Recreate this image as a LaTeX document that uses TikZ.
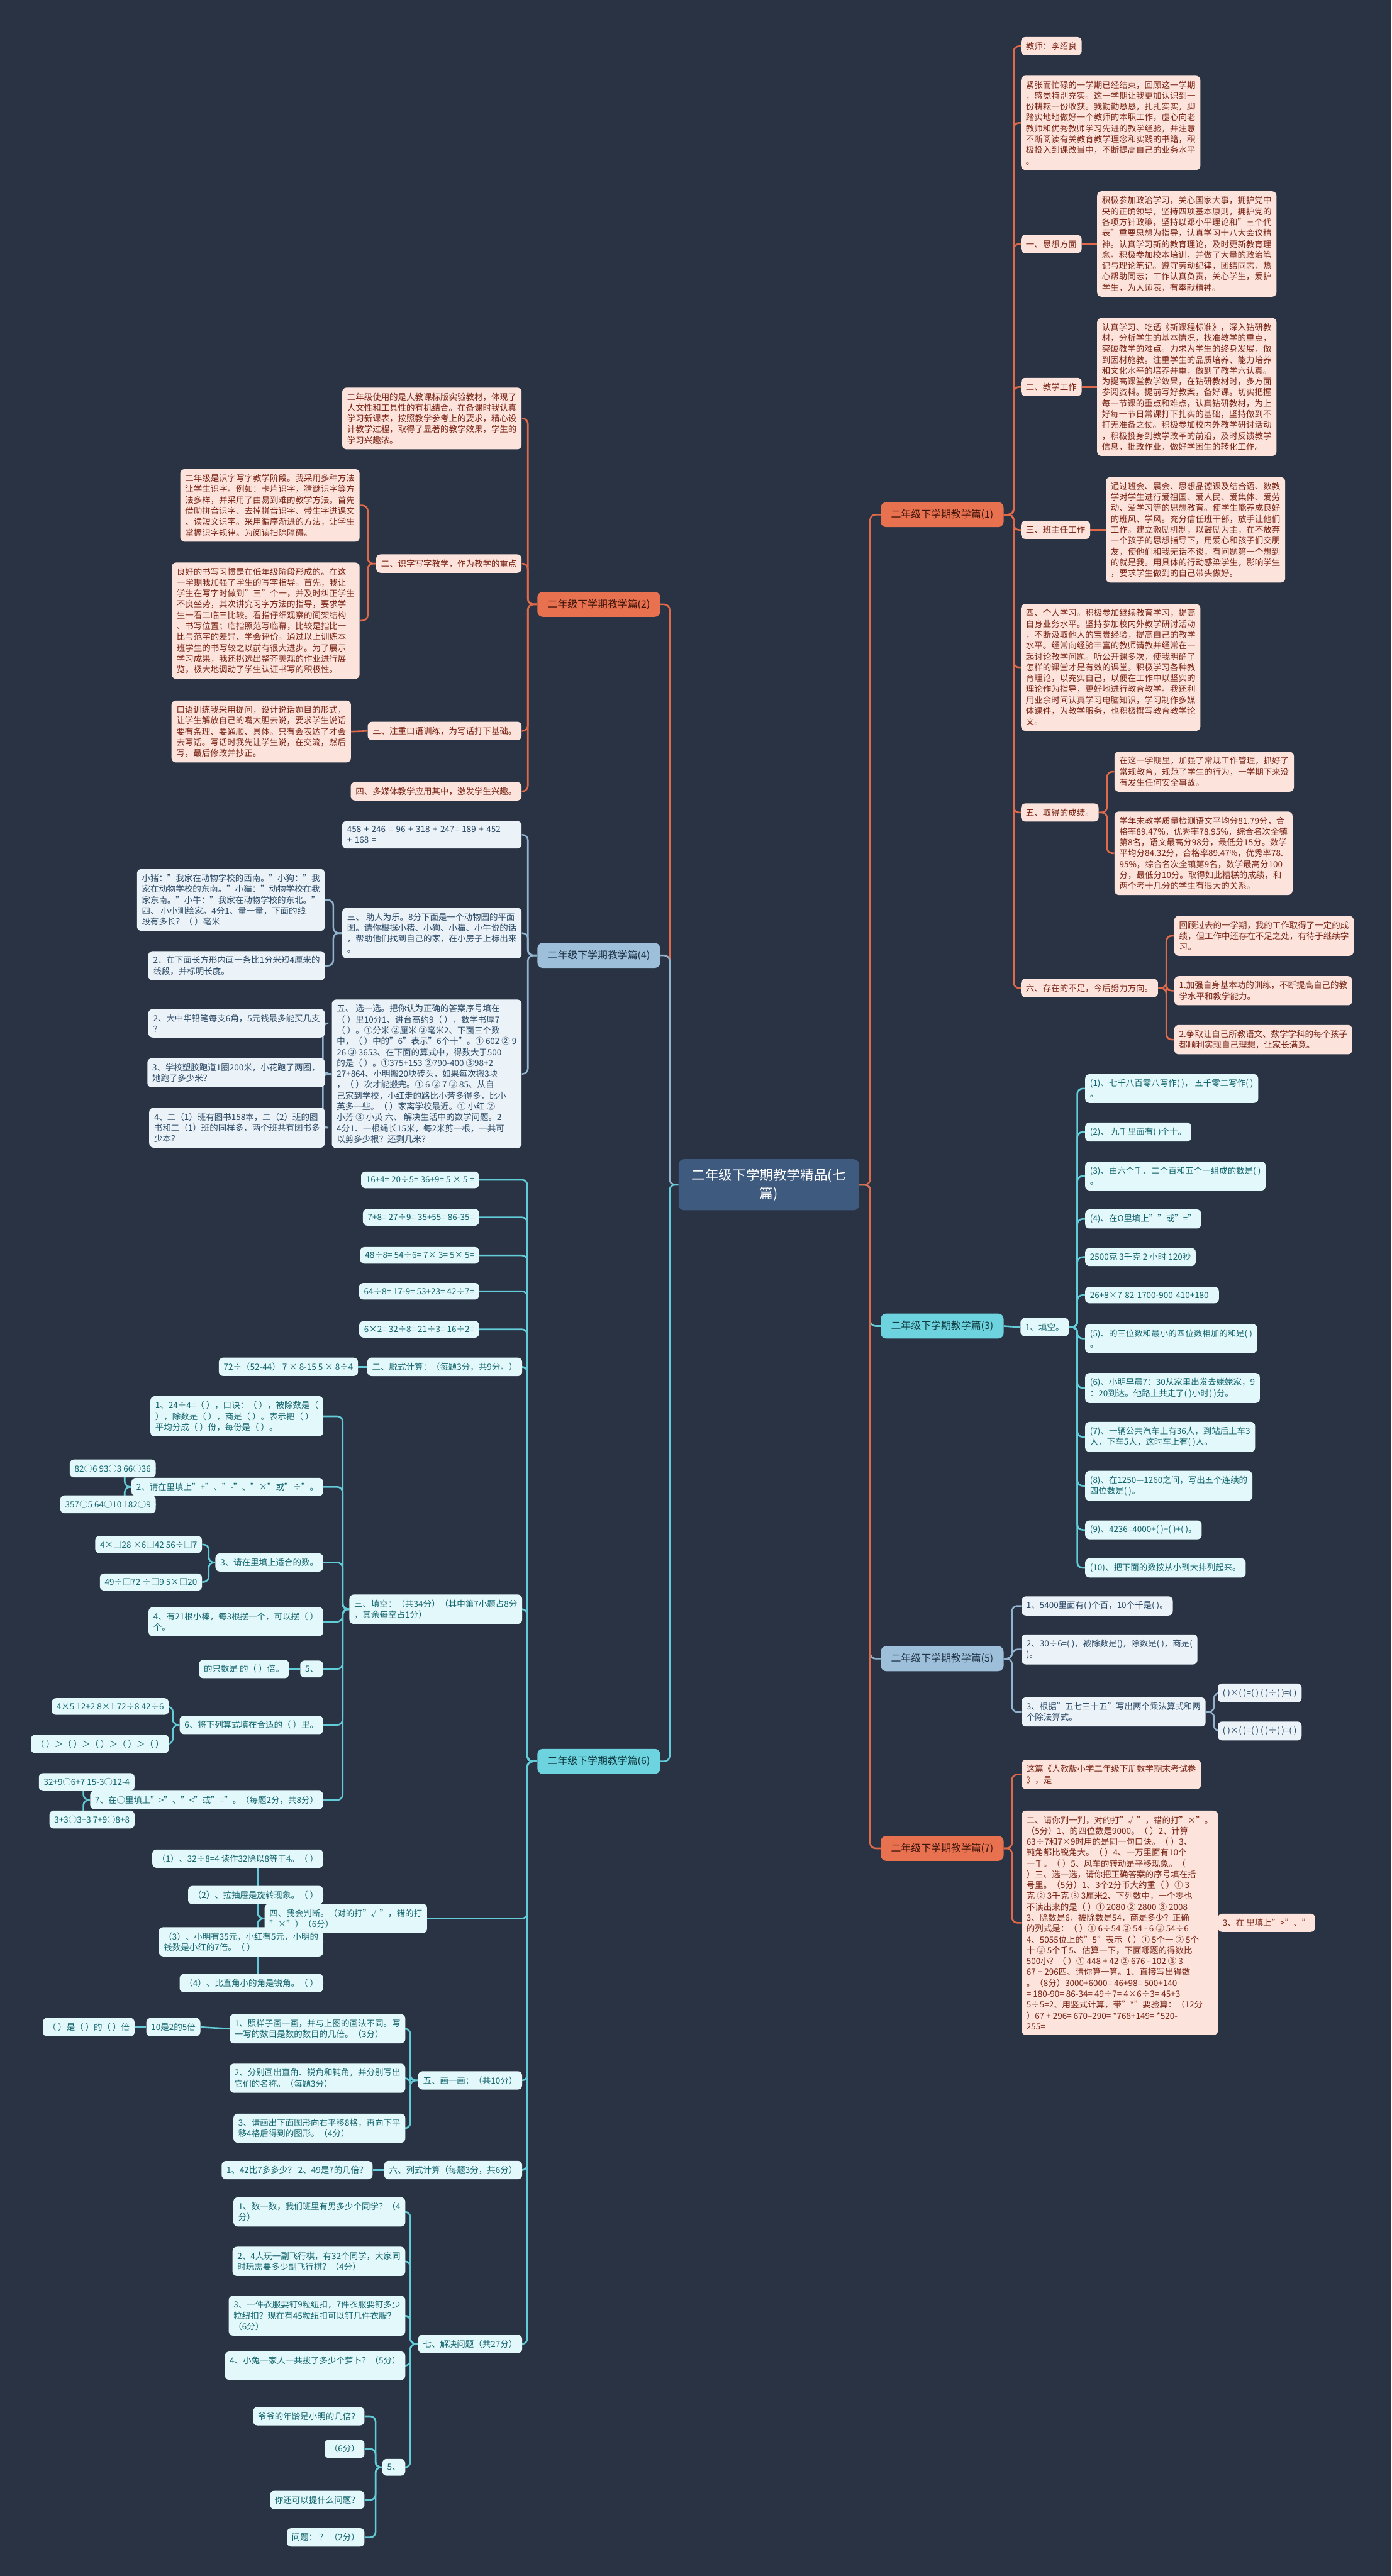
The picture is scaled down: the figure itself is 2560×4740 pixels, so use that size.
\documentclass[tikz,border=0pt]{standalone}
\usepackage{fontspec}
\setmainfont{Noto Sans CJK SC}
\usetikzlibrary{calc}
\pgfdeclarelayer{back}\pgfdeclarelayer{lines}\pgfsetlayers{back,lines,main}
\definecolor{bgc}{HTML}{293343}
\definecolor{loF}{HTML}{FCE4DC}\definecolor{loT}{HTML}{7A2415}
\definecolor{lbF}{HTML}{EBF2F8}\definecolor{lbT}{HTML}{2B4A66}
\definecolor{lcF}{HTML}{E3F8FA}\definecolor{lcT}{HTML}{13656E}
\definecolor{boF}{HTML}{E8714F}\definecolor{boT}{HTML}{3E140A}
\definecolor{bbF}{HTML}{9DBFD9}\definecolor{bbT}{HTML}{1F3347}
\definecolor{bcF}{HTML}{6DD3DE}\definecolor{bcT}{HTML}{0F3A40}
\definecolor{coL}{HTML}{E0694A}\definecolor{cbL}{HTML}{93B4CF}\definecolor{ccL}{HTML}{62CCD9}
\definecolor{ctrF}{HTML}{3E5A7E}
\tikzset{
 box/.style={rounded corners=4pt, inner xsep=4.5pt, inner ysep=4.75pt, align=left, font=\fontsize{7.8}{10}\selectfont},
 lo/.style={box, fill=loF, text=loT},
 lb/.style={box, fill=lbF, text=lbT},
 lc/.style={box, fill=lcF, text=lcT},
 br/.style={rounded corners=5pt, minimum width=113pt, minimum height=23pt, inner sep=2pt, font=\fontsize{9.2}{11}\selectfont},
 bo/.style={br, fill=boF, text=boT},
 bb/.style={br, fill=bbF, text=bbT},
 bc/.style={br, fill=bcF, text=bcT},
 ctr/.style={rounded corners=5pt, minimum width=166pt, minimum height=47pt, fill=ctrF, text=white, align=center, font=\fontsize{12.5}{17}\selectfont},
 co/.style={draw=coL, line width=1.5pt, rounded corners=5pt},
 cb/.style={draw=cbL, line width=1.5pt, rounded corners=5pt},
 cc/.style={draw=ccL, line width=1.5pt, rounded corners=5pt},
}
\begin{document}
\begin{tikzpicture}[x=0.5pt,y=-0.5pt]
\begin{pgfonlayer}{back}
\fill[bgc] (0,0) rectangle (2560,4740);
\end{pgfonlayer}
\useasboundingbox (0,0) rectangle (2560,4740);
% center and branches
\node[ctr, anchor=west] (c) at (1248,2180) {二年级下学期教学精品(七\\篇)};
\node[bo, anchor=west] (b1) at (1620,947) {二年级下学期教学篇(1)};
\node[bc, anchor=west] (b3) at (1620,2440) {二年级下学期教学篇(3)};
\node[bb, anchor=west] (b5) at (1620,3052) {二年级下学期教学篇(5)};
\node[bo, anchor=west] (b7) at (1620,3401) {二年级下学期教学篇(7)};
\node[bo, anchor=east] (b2) at (1215,1112) {二年级下学期教学篇(2)};
\node[bb, anchor=east] (b4) at (1215,1758) {二年级下学期教学篇(4)};
\node[bc, anchor=east] (b6) at (1215,3241) {二年级下学期教学篇(6)};
% ===== 篇(1)
\node[lo, anchor=west] (a1) at (1878,85) {教师：李绍良};
\node[lo, anchor=west] (a2) at (1878,226) {紧张而忙碌的一学期已经结束，回顾这一学期\\，感觉特别充实。这一学期让我更加认识到一\\份耕耘一份收获。我勤勤恳恳，扎扎实实，脚\\踏实地地做好一个教师的本职工作，虚心向老\\教师和优秀教师学习先进的教学经验，并注意\\不断阅读有关教育教学理念和实践的书籍，积\\极投入到课改当中，不断提高自己的业务水平\\。};
\node[lo, anchor=west] (a3) at (1878,449) {一、思想方面};
\node[lo, anchor=west] (a3c) at (2018,449) {积极参加政治学习，关心国家大事，拥护党中\\央的正确领导，坚持四项基本原则，拥护党的\\各项方针政策，坚持以邓小平理论和"三个代\\表"重要思想为指导，认真学习十八大会议精\\神。认真学习新的教育理论，及时更新教育理\\念。积极参加校本培训，并做了大量的政治笔\\记与理论笔记。遵守劳动纪律，团结同志，热\\心帮助同志；工作认真负责，关心学生，爱护\\学生，为人师表，有奉献精神。};
\node[lo, anchor=west] (a4) at (1878,712) {二、教学工作};
\node[lo, anchor=west] (a4c) at (2018,712) {认真学习、吃透《新课程标准》，深入钻研教\\材，分析学生的基本情况，找准教学的重点，\\突破教学的难点。力求为学生的终身发展，做\\到因材施教。注重学生的品质培养、能力培养\\和文化水平的培养并重，做到了教学六认真。\\为提高课堂教学效果，在钻研教材时，多方面\\参阅资料。提前写好教案，备好课。切实把握\\每一节课的重点和难点，认真钻研教材，为上\\好每一节日常课打下扎实的基础，坚持做到不\\打无准备之仗。积极参加校内外教学研讨活动\\，积极投身到教学改革的前沿，及时反馈教学\\信息，批改作业，做好学困生的转化工作。};
\node[lo, anchor=west] (a5) at (1878,975) {三、班主任工作};
\node[lo, anchor=west] (a5c) at (2034,975) {通过班会、晨会、思想品德课及结合语、数教\\学对学生进行爱祖国、爱人民、爱集体、爱劳\\动、爱学习等的思想教育。使学生能养成良好\\的班风、学风。充分信任班干部，放手让他们\\工作。建立激励机制，以鼓励为主，在不放弃\\一个孩子的思想指导下，用爱心和孩子们交朋\\友，使他们和我无话不谈，有问题第一个想到\\的就是我。用具体的行动感染学生，影响学生\\，要求学生做到的自己带头做好。};
\node[lo, anchor=west] (a6) at (1878,1228) {四、个人学习。积极参加继续教育学习，提高\\自身业务水平。坚持参加校内外教学研讨活动\\，不断汲取他人的宝贵经验，提高自己的教学\\水平。经常向经验丰富的教师请教并经常在一\\起讨论教学问题。听公开课多次，使我明确了\\怎样的课堂才是有效的课堂。积极学习各种教\\育理论，以充实自己，以便在工作中以坚实的\\理论作为指导，更好地进行教育教学。我还利\\用业余时间认真学习电脑知识，学习制作多媒\\体课件，为教学服务，也积极撰写教育教学论\\文。};
\node[lo, anchor=west] (a7) at (1878,1495) {五、取得的成绩。};
\node[lo, anchor=west] (a7a) at (2050,1420) {在这一学期里，加强了常规工作管理，抓好了\\常规教育，规范了学生的行为，一学期下来没\\有发生任何安全事故。};
\node[lo, anchor=west] (a7b) at (2050,1570) {学年末教学质量检测语文平均分81.79分，合\\格率89.47\%，优秀率78.95\%，综合名次全镇\\第8名，语文最高分98分，最低分15分。数学\\平均分84.32分，合格率89.47\%，优秀率78.\\95\%，综合名次全镇第9名，数学最高分100\\分，最低分10分。取得如此糟糕的成绩，和\\两个考十几分的学生有很大的关系。};
\node[lo, anchor=west] (a8) at (1878,1818) {六、存在的不足，今后努力方向。};
\node[lo, anchor=west] (a8a) at (2160,1722) {回顾过去的一学期，我的工作取得了一定的成\\绩，但工作中还存在不足之处，有待于继续学\\习。};
\node[lo, anchor=west] (a8b) at (2160,1823) {1.加强自身基本功的训练，不断提高自己的教\\学水平和教学能力。};
\node[lo, anchor=west] (a8c) at (2160,1913) {2.争取让自己所教语文、数学学科的每个孩子\\都顺利实现自己理想，让家长满意。};
% ===== 篇(2)
\node[lo, anchor=east] (q1) at (960,770) {二年级使用的是人教课标版实验教材，体现了\\人文性和工具性的有机结合。在备课时我认真\\学习新课表，按照教学参考上的要求，精心设\\计教学过程，取得了显著的教学效果，学生的\\学习兴趣浓。};
\node[lo, anchor=east] (q2) at (960,1037) {二、识字写字教学，作为教学的重点};
\node[lo, anchor=east] (q2a) at (662,930) {二年级是识字写字教学阶段。我采用多种方法\\让学生识字。例如：卡片识字，猜谜识字等方\\法多样，并采用了由易到难的教学方法。首先\\借助拼音识字、去掉拼音识字、带生字进课文\\、读短文识字。采用循序渐进的方法，让学生\\掌握识字规律。为阅读扫除障碍。};
\node[lo, anchor=east] (q2b) at (662,1142) {良好的书写习惯是在低年级阶段形成的。在这\\一学期我加强了学生的写字指导。首先，我让\\学生在写字时做到"三"个一，并及时纠正学生\\不良坐势，其次讲究习字方法的指导，要求学\\生一看二临三比较。看指仔细观察的间架结构\\、书写位置；临指照范写临幕，比较是指比一\\比与范字的差异、学会评价。通过以上训练本\\班学生的书写较之以前有很大进步。为了展示\\学习成果，我还挑选出整齐美观的作业进行展\\览，极大地调动了学生认证书写的积极性。};
\node[lo, anchor=east] (q3) at (960,1345) {三、注重口语训练，为写话打下基础。};
\node[lo, anchor=east] (q3a) at (646,1346) {口语训练我采用提问，设计说话题目的形式，\\让学生解放自己的嘴大胆去说，要求学生说话\\要有条理、要通顺、具体。只有会表达了才会\\去写话。写话时我先让学生说，在交流，然后\\写，最后修改并抄正。};
\node[lo, anchor=east] (q4) at (960,1456) {四、多媒体教学应用其中，激发学生兴趣。};
% ===== 篇(4)
\node[lb, anchor=east, text width=156pt] (r1) at (960,1536) {458 + 246 = 96 + 318 + 247= 189 + 452\\+ 168 =};
\node[lb, anchor=east] (r2) at (960,1717) {三、 助人为乐。8分下面是一个动物园的平面\\图。请你根据小猪、小狗、小猫、小牛说的话\\，帮助他们找到自己的家，在小房子上标出来\\。};
\node[lb, anchor=east] (r2a) at (598,1656) {小猪："我家在动物学校的西南。"小狗："我\\家在动物学校的东南。"小猫："动物学校在我\\家东南。"小牛："我家在动物学校的东北。"\\四、 小小测绘家。4分1、量一量，下面的线\\段有多长？（ ）毫米};
\node[lb, anchor=east] (r2b) at (598,1777) {2、在下面长方形内画一条比1分米短4厘米的\\线段，并标明长度。};
\node[lb, anchor=east] (r3) at (960,1976) {五、 选一选。把你认为正确的答案序号填在\\（ ）里10分1、讲台高约9（ ），数学书厚7\\（ ）。①分米 ②厘米 ③毫米2、下面三个数\\中，（ ）中的"6"表示"6个十"。① 602 ② 9\\26 ③ 3653、在下面的算式中，得数大于500\\的是（ ）。①375+153 ②790-400 ③98+2\\27+864、小明搬20块砖头，如果每次搬3块\\，（ ）次才能搬完。① 6 ② 7 ③ 85、从自\\己家到学校，小红走的路比小芳多得多，比小\\英多一些。（ ）家离学校最近。① 小红 ②\\小芳 ③ 小英 六、 解决生活中的数学问题。2\\4分1、一根绳长15米，每2米剪一根，一共可\\以剪多少根？还剩几米？};
\node[lb, anchor=east] (r3a) at (598,1883) {2、大中华铅笔每支6角，5元钱最多能买几支\\？};
\node[lb, anchor=east] (r3b) at (598,1974) {3、学校塑胶跑道1圈200米，小花跑了两圈，\\她跑了多少米？};
\node[lb, anchor=east] (r3c) at (598,2075) {4、二（1）班有图书158本，二（2）班的图\\书和二（1）班的同样多，两个班共有图书多\\少本？};
% ===== 篇(3)
\node[lc, anchor=west] (f) at (1877,2442) {1、填空。};
\node[lc, anchor=west] (f1) at (1996,2003) {(1)、七千八百零八写作( )， 五千零二写作( )\\。};
\node[lc, anchor=west] (f2) at (1996,2083) {(2)、 九千里面有( )个十。};
\node[lc, anchor=west] (f3) at (1996,2164) {(3)、由六个千、二个百和五个一组成的数是( )\\。};
\node[lc, anchor=west] (f4) at (1996,2243) {(4)、在O里填上""或"="};
\node[lc, anchor=west] (f5) at (1996,2313) {2500克 3千克 2 小时 120秒};
\node[lc, anchor=west, text width=114pt] (f6) at (1996,2383) {26+8×7 82 1700-900 410+180};
\node[lc, anchor=west] (f7) at (1996,2463) {(5)、的三位数和最小的四位数相加的和是( )\\。};
\node[lc, anchor=west] (f8) at (1996,2554) {(6)、小明早晨7：30从家里出发去姥姥家，9\\：20到达。他路上共走了( )小时( )分。};
\node[lc, anchor=west] (f9) at (1996,2644) {(7)、一辆公共汽车上有36人，到站后上车3\\人，下车5人，这时车上有( )人。};
\node[lc, anchor=west] (f10) at (1996,2734) {(8)、在1250—1260之间，写出五个连续的\\四位数是( )。};
\node[lc, anchor=west] (f11) at (1996,2815) {(9)、4236=4000+( )+( )+( )。};
\node[lc, anchor=west] (f12) at (1996,2885) {(10)、把下面的数按从小到大排列起来。};
% ===== 篇(5)
\node[lb, anchor=west] (g1) at (1879,2955) {1、5400里面有( )个百，10个千是( )。};
\node[lb, anchor=west] (g2) at (1879,3035) {2、30÷6=( )，被除数是()，除数是( )，商是(\\)。};
\node[lb, anchor=west] (g3) at (1879,3150) {3、根据"五七三十五"写出两个乘法算式和两\\个除法算式。};
\node[lb, anchor=west] (g3a) at (2240,3115) {( )×( )=( ) ( )÷( )=( )};
\node[lb, anchor=west] (g3b) at (2240,3185) {( )×( )=( ) ( )÷( )=( )};
% ===== 篇(7)
\node[lo, anchor=west] (h1) at (1879,3265) {这篇《人教版小学二年级下册数学期末考试卷\\》，是};
\node[lo, anchor=west] (h2) at (1879,3538) {二、请你判一判，对的打"√"，错的打"×"。\\（5分）1、的四位数是9000。（ ）2、计算\\63÷7和7×9时用的是同一句口诀。（ ）3、\\钝角都比锐角大。（ ）4、一万里面有10个\\一千。（ ）5、风车的转动是平移现象。（\\）三、选一选，请你把正确答案的序号填在括\\号里。（5分）1、3个2分币大约重（ ）① 3\\克 ② 3千克 ③ 3厘米2、下列数中，一个零也\\不读出来的是（ ）① 2080 ② 2800 ③ 2008\\3、除数是6，被除数是54，商是多少？正确\\的列式是：（ ）① 6÷54 ② 54 - 6 ③ 54÷6\\4、5055位上的"5"表示（ ）① 5个一 ② 5个\\十 ③ 5个千5、估算一下，下面哪题的得数比\\500小？（ ）① 448 + 42 ② 676 - 102 ③ 3\\67 + 296四、请你算一算。1、直接写出得数\\。（8分）3000+6000= 46+98= 500+140\\= 180-90= 86-34= 49÷7= 4×6÷3= 45+3\\5÷5=2、用竖式计算，带"*"要验算：（12分\\）67 + 296= 670–290= *768+149= *520-\\255=};
\node[lo, anchor=west] (h2a) at (2240,3538) {3、在 里填上">"、"};
% ===== 篇(6)
\node[lc, anchor=east] (u1) at (882,2171) {16+4= 20÷5= 36+9= 5 × 5 =};
\node[lc, anchor=east] (u2) at (882,2240) {7+8= 27÷9= 35+55= 86-35=};
\node[lc, anchor=east] (u3) at (882,2310) {48÷8= 54÷6= 7× 3= 5× 5=};
\node[lc, anchor=east] (u4) at (882,2376) {64÷8= 17-9= 53+23= 42÷7=};
\node[lc, anchor=east] (u5) at (882,2446) {6×2= 32÷8= 21÷3= 16÷2=};
\node[lc, anchor=east] (u6) at (961,2515) {二、脱式计算：（每题3分，共9分。）};
\node[lc, anchor=east] (u6a) at (659,2515) {72÷（52-44） 7 × 8-15 5 × 8÷4};
\node[lc, anchor=east] (u7) at (961,2961) {三、填空：（共34分）（其中第7小题占8分\\，其余每空占1分）};
\node[lc, anchor=east] (v1) at (595,2606) {1、24÷4=（ ），口诀：（ ），被除数是（\\ ），除数是（ ），商是（ ）。表示把（ ）\\平均分成（ ）份，每份是（ ）。};
\node[lc, anchor=east] (v2) at (595,2736) {2、请在里填上"+"、"-"、"×"或"÷"。};
\node[lc, anchor=east] (v2a) at (287,2702) {82○6 93○3 66○36};
\node[lc, anchor=east] (v2b) at (287,2768) {357○5 64○10 182○9};
\node[lc, anchor=east] (v3) at (595,2875) {3、请在里填上适合的数。};
\node[lc, anchor=east] (v3a) at (372,2842) {4×□28 ×6□42 56÷□7};
\node[lc, anchor=east] (v3b) at (372,2911) {49÷□72 ÷□9 5×□20};
\node[lc, anchor=east] (v4) at (595,2984) {4、有21根小棒，每3根摆一个，可以摆（ ）\\个。};
\node[lc, anchor=east] (v5) at (595,3071) {5、};
\node[lc, anchor=east] (v5a) at (532,3071) {的只数是 的（ ）倍。};
\node[lc, anchor=east] (v6) at (595,3174) {6、将下列算式填在合适的（ ）里。};
\node[lc, anchor=east] (v6a) at (311,3140) {4×5 12+2 8×1 72÷8 42÷6};
\node[lc, anchor=east] (v6b) at (311,3209) {（ ）＞（ ）＞（ ）＞（ ）＞（ ）};
\node[lc, anchor=east] (v7) at (595,3312) {7、在○里填上">"、"<"或"="。（每题2分，共8分）};
\node[lc, anchor=east] (v7a) at (248,3279) {32+9○6+7 15-3○12-4};
\node[lc, anchor=east] (v7b) at (248,3348) {3+3○3+3 7+9○8+8};
\node[lc, anchor=east] (u8) at (786,3530) {四、我会判断。（对的打"√"，错的打\\"×"）（6分）};
\node[lc, anchor=east] (w1) at (595,3420) {（1）、32÷8=4 读作32除以8等于4。（ ）};
\node[lc, anchor=east] (w2) at (595,3487) {（2）、拉抽屉是旋转现象。（ ）};
\node[lc, anchor=east] (w3) at (595,3573) {（3）、小明有35元，小红有5元，小明的\\钱数是小红的7倍。（ ）};
\node[lc, anchor=east] (w4) at (595,3649) {（4）、比直角小的角是锐角。（ ）};
\node[lc, anchor=east] (u9) at (961,3828) {五、画一画：（共10分）};
\node[lc, anchor=east] (x1) at (746,3733) {1、照样子画一画，并与上图的画法不同。写\\一写的数目是数的数目的几倍。（3分）};
\node[lc, anchor=east] (x1a) at (369,3730) {10是2的5倍};
\node[lc, anchor=east] (x1b) at (248,3730) {（ ）是（ ）的（ ）倍};
\node[lc, anchor=east] (x2) at (746,3824) {2、分别画出直角、锐角和钝角，并分别写出\\它们的名称。（每题3分）};
\node[lc, anchor=east] (x3) at (746,3916) {3、请画出下面图形向右平移8格，再向下平\\移4格后得到的图形。（4分）};
\node[lc, anchor=east] (u10) at (961,3993) {六、列式计算（每题3分，共6分）};
\node[lc, anchor=east] (u10a) at (686,3993) {1、42比7多多少？ 2、49是7的几倍？};
\node[lc, anchor=east] (u11) at (961,4313) {七、解决问题（共27分）};
\node[lc, anchor=east] (y1) at (746,4070) {1、数一数，我们班里有男多少个同学？（4\\分）};
\node[lc, anchor=east] (y2) at (746,4161) {2、4人玩一副飞行棋，有32个同学，大家同\\时玩需要多少副飞行棋？（4分）};
\node[lc, anchor=east] (y3) at (746,4261) {3、一件衣服要钉9粒纽扣，7件衣服要钉多少\\粒纽扣？现在有45粒纽扣可以钉几件衣服？\\（6分）};
\node[lc, anchor=east] (y4) at (746,4353) {4、小兔一家人一共拔了多少个萝卜？（5分）\\};
\node[lc, anchor=east] (y5) at (746,4540) {5、};
\node[lc, anchor=east] (y5a) at (671,4446) {爷爷的年龄是小明的几倍？};
\node[lc, anchor=east] (y5b) at (671,4506) {（6分）};
\node[lc, anchor=east] (y5c) at (671,4600) {你还可以提什么问题？};
\node[lc, anchor=east] (y5d) at (671,4669) {问题： ？ （2分）};
% ===== connectors
\begin{pgfonlayer}{lines}
\draw[co] (c.east) -- ++(20,0) |- (b1.west);
\draw[cc] (c.east) -- ++(20,0) |- (b3.west);
\draw[cb] (c.east) -- ++(20,0) |- (b5.west);
\draw[co] (c.east) -- ++(20,0) |- (b7.west);
\draw[co] (c.west) -- ++(-16,0) |- (b2.east);
\draw[cb] (c.west) -- ++(-16,0) |- (b4.east);
\draw[cc] (c.west) -- ++(-16,0) |- (b6.east);
% 1
\foreach \n in {a1,a2,a3,a4,a5,a6,a7,a8} \draw[co] (b1.east) -- ++(18,0) |- (\n.west);
\draw[co] (a3.east) -- (a3c.west);
\draw[co] (a4.east) -- (a4c.west);
\draw[co] (a5.east) -- (a5c.west);
\foreach \n in {a7a,a7b} \draw[co] (a7.east) -- ++(15,0) |- (\n.west);
\foreach \n in {a8a,a8b,a8c} \draw[co] (a8.east) -- ++(15,0) |- (\n.west);
% 2
\foreach \n in {q1,q2,q3,q4} \draw[co] (b2.west) -- ++(-17,0) |- (\n.east);
\foreach \n in {q2a,q2b} \draw[co] (q2.west) -- ++(-15,0) |- (\n.east);
\draw[co] (q3.west) -- (q3a.east);
% 4
\foreach \n in {r1,r2,r3} \draw[cb] (b4.west) -- ++(-17,0) |- (\n.east);
\foreach \n in {r2a,r2b} \draw[cb] (r2.west) -- ++(-16,0) |- (\n.east);
\foreach \n in {r3a,r3b,r3c} \draw[cb] (r3.west) -- ++(-16,0) |- (\n.east);
% 3
\draw[cc] (b3.east) -- (f.west);
\foreach \n in {f1,f2,f3,f4,f5,f6,f7,f8,f9,f10,f11,f12} \draw[cc] (f.east) -- ++(15,0) |- (\n.west);
% 5
\foreach \n in {g1,g2,g3} \draw[cb] (b5.east) -- ++(15,0) |- (\n.west);
\foreach \n in {g3a,g3b} \draw[cb] (g3.east) -- ++(15,0) |- (\n.west);
% 7
\foreach \n in {h1,h2} \draw[co] (b7.east) -- ++(15,0) |- (\n.west);
\draw[co] (h2.east) -- (h2a.west);
% 6
\foreach \n in {u1,u2,u3,u4,u5,u6,u7,u8,u9,u10,u11} \draw[cc] (b6.west) -- ++(-18,0) |- (\n.east);
\draw[cc] (u6.west) -- (u6a.east);
\foreach \n in {v1,v2,v3,v4,v5,v6,v7} \draw[cc] (u7.west) -- ++(-12,0) |- (\n.east);
\foreach \n in {v2a,v2b} \draw[cc] (v2.west) -- ++(-12,0) |- (\n.east);
\foreach \n in {v3a,v3b} \draw[cc] (v3.west) -- ++(-12,0) |- (\n.east);
\draw[cc] (v5.west) -- (v5a.east);
\foreach \n in {v6a,v6b} \draw[cc] (v6.west) -- ++(-12,0) |- (\n.east);
\foreach \n in {v7a,v7b} \draw[cc] (v7.west) -- ++(-12,0) |- (\n.east);
\foreach \n in {w1,w2,w3,w4} \draw[cc] (u8.west) -- ++(-12,0) |- (\n.east);
\foreach \n in {x1,x2,x3} \draw[cc] (u9.west) -- ++(-14,0) |- (\n.east);
\draw[cc] (x1.west) -- (x1a.east);
\draw[cc] (x1a.west) -- (x1b.east);
\draw[cc] (u10.west) -- (u10a.east);
\foreach \n in {y1,y2,y3,y4,y5} \draw[cc] (u11.west) -- ++(-14,0) |- (\n.east);
\foreach \n in {y5a,y5b,y5c,y5d} \draw[cc] (y5.west) -- ++(-12,0) |- (\n.east);
\end{pgfonlayer}
\end{tikzpicture}
\end{document}
